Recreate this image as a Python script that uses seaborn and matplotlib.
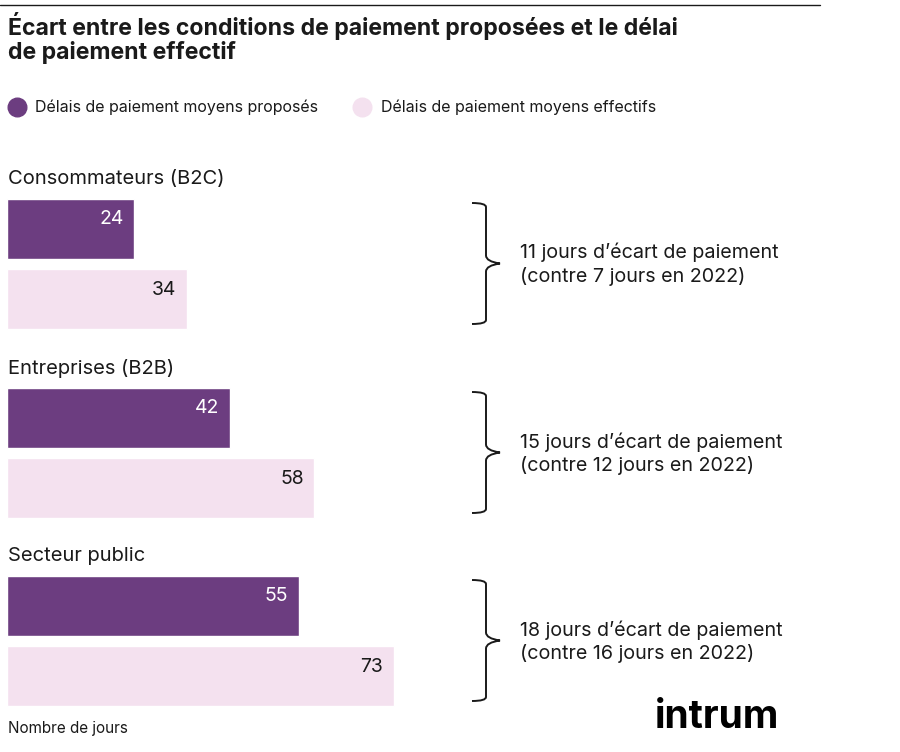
import matplotlib
matplotlib.use("Agg")
import matplotlib.pyplot as plt
import seaborn as sns
from matplotlib.path import Path
from matplotlib.patches import PathPatch

groups = ["Consommateurs (B2C)", "Entreprises (B2B)", "Secteur public"]
proposes = [24, 42, 55]
effectifs = [34, 58, 73]
notes = ["11 jours d’écart de paiement\n(contre 7 jours en 2022)",
         "15 jours d’écart de paiement\n(contre 12 jours en 2022)",
         "18 jours d’écart de paiement\n(contre 16 jours en 2022)"]

sns.set_theme(style="white")
plt.rcParams['font.family'] = ['Inter', 'DejaVu Sans']
PURPLE = "#6c3d80"; PINK = "#f4e1ef"; DARK = "#1a1a1a"
W, H = 900, 752
fig = plt.figure(figsize=(9, 7.52), dpi=100)
ov = fig.add_axes([0, 0, 1, 1]); ov.set_xlim(0, W); ov.set_ylim(H, 0); ov.axis("off")
ax = fig.add_axes([7/W, 0, 1-7/W, 1], zorder=2); ax.patch.set_alpha(0)
ax.set_xlim(0, (W-7)/5.3); ax.set_ylim(H, 0); ax.axis("off")

tops = [199, 388, 576]
for i, g in enumerate(groups):
    t = tops[i]
    ax.barh(t+30, proposes[i], height=60, color=PURPLE)
    ax.barh(t+100, effectifs[i], height=60, color=PINK)
    ax.text(proposes[i]-2.0, t+20, str(proposes[i]), color="white", fontsize=14, ha="right", va="center")
    ax.text(effectifs[i]-2.0, t+91, str(effectifs[i]), color=DARK, fontsize=14, ha="right", va="center")
    ov.text(8, t-20, g, fontsize=14.5, color=DARK, va="center")
    y0, y1 = t+4, t+125; ym = (y0+y1)/2
    verts = [(472, y0), (486, y0), (486, y0+4), (486, ym-8), (486, ym-2), (500, ym),
             (486, ym+2), (486, ym+8), (486, y1-4), (486, y1), (472, y1)]
    codes = [Path.MOVETO, Path.CURVE3, Path.CURVE3, Path.LINETO, Path.CURVE3, Path.CURVE3,
             Path.CURVE3, Path.CURVE3, Path.LINETO, Path.CURVE3, Path.CURVE3]
    ov.add_patch(PathPatch(Path(verts, codes), fill=False, lw=1.4, color=DARK))
    ov.text(520, ym+1, notes[i], fontsize=14.2, color=DARK, va="center", linespacing=1.3)

ov.plot([0, 820], [5, 5], color=DARK, lw=1)
ov.text(8, 38, "Écart entre les conditions de paiement proposées et le délai\nde paiement effectif",
        fontsize=16.6, fontweight="bold", color=DARK, va="center", linespacing=1.1)
ov.scatter([17], [107], s=180, color=PURPLE)
ov.text(35, 107, "Délais de paiement moyens proposés", fontsize=11.5, color=DARK, va="center")
ov.scatter([362], [107], s=180, color=PINK)
ov.text(381, 107, "Délais de paiement moyens effectifs", fontsize=11.5, color=DARK, va="center")
ov.text(8, 728, "Nombre de jours", fontsize=11, color=DARK, va="center")
ov.text(655, 718, "intrum", fontsize=28, fontweight="bold", color="black", va="center")
fig.savefig("out.png", dpi=100)
